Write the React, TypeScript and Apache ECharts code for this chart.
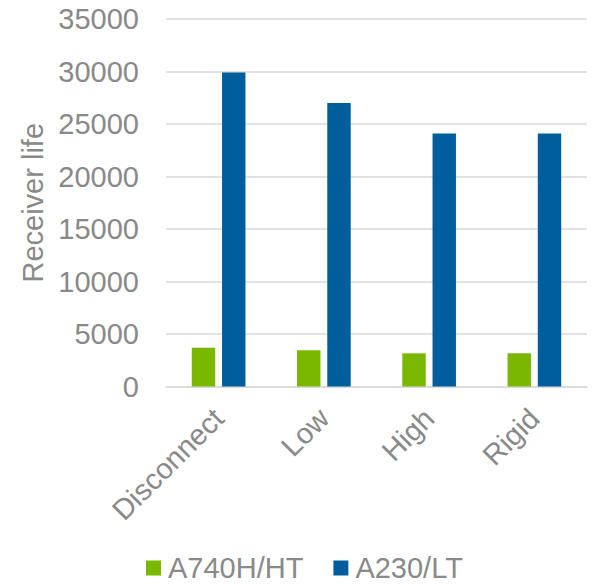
import React, { useEffect, useRef } from "react";
import * as echarts from "echarts";

const categories = ["Disconnect", "Low", "High", "Rigid"];
const seriesNames = ["A740H/HT", "A230/LT"];
const a740Values = [3700, 3450, 3160, 3160];
const a230Values = [29900, 27000, 24100, 24100];
const yTicks = { min: 0, max: 35000, interval: 5000 };

const TEXT = "#898989";
const FONT = "'Liberation Sans', Arial, sans-serif";
const FS = 29;

export default function App() {
  const ref = useRef<HTMLDivElement>(null);
  useEffect(() => {
    document.body.style.margin = "0";
    const chart = echarts.init(ref.current!, null, { renderer: "svg" });
    chart.setOption({
      animation: false,
      backgroundColor: "#ffffff",
      textStyle: { fontFamily: FONT },
      grid: { left: 166, right: 5, top: 19, bottom: 199.5, containLabel: false },
      legend: {
        top: 551,
        left: 141,
        padding: [2, 5, 2, 5],
        itemWidth: 15,
        itemHeight: 15,
        itemGap: 30,
        icon: "rect",
        textStyle: { color: TEXT, fontSize: FS, lineHeight: 30, fontFamily: FONT, padding: [0, 0, 0, 2] },
        data: seriesNames,
      },
      xAxis: {
        type: "category",
        data: categories,
        axisLine: { show: true, lineStyle: { color: "#d9d9d9", width: 1.5 } },
        axisTick: { show: false },
        axisLabel: { rotate: 45, color: TEXT, fontSize: FS, fontFamily: FONT, margin: 27, interval: 0 },
      },
      yAxis: {
        type: "value",
        min: yTicks.min,
        max: yTicks.max,
        interval: yTicks.interval,
        name: "Receiver life",
        nameLocation: "middle",
        nameGap: 115,
        nameTextStyle: { color: TEXT, fontSize: FS, fontFamily: FONT },
        axisLine: { show: false },
        axisTick: { show: false },
        axisLabel: {
          color: TEXT,
          fontSize: FS,
          fontFamily: FONT,
          margin: 27,
          formatter: (v: number) => String(v),
        },
        splitLine: { lineStyle: { color: "#d9d9d9", width: 1.5 } },
      },
      series: [
        {
          name: seriesNames[0],
          type: "bar",
          data: a740Values,
          barGap: "29%",
          barCategoryGap: "49%",
          itemStyle: { color: "#7ab800" },
        },
        {
          name: seriesNames[1],
          type: "bar",
          data: a230Values,
          barGap: "29%",
          barCategoryGap: "49%",
          itemStyle: { color: "#005e9c" },
        },
      ],
    });
    return () => chart.dispose();
  }, []);
  return <div ref={ref} style={{ position: "absolute", left: 0, top: 0, width: 592, height: 586 }} />;
}
